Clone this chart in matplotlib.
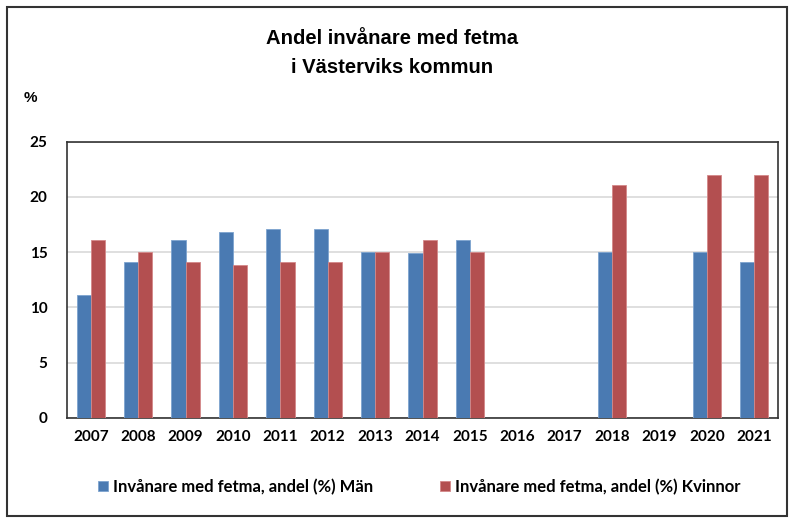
import numpy as np
import matplotlib.pyplot as plt
from matplotlib.patches import Rectangle

years = ['2007', '2008', '2009', '2010', '2011', '2012', '2013', '2014',
         '2015', '2016', '2017', '2018', '2019', '2020', '2021']
man = [11.1, 14.1, 16.1, 16.8, 17.1, 17.1, 15.0, 14.9, 16.1,
       np.nan, np.nan, 15.0, np.nan, 15.0, 14.1]
kvinnor = [16.1, 15.0, 14.1, 13.8, 14.1, 14.1, 15.0, 16.1, 15.0,
           np.nan, np.nan, 21.1, np.nan, 22.0, 22.0]

plt.rcParams['font.family'] = ['Lato', 'DejaVu Sans']

fig = plt.figure(figsize=(7.89, 5.19), dpi=100)
ax = fig.add_axes([0.085, 0.195, 0.901, 0.532])

x = np.arange(len(years))
w = 0.3
ax.bar(x - w / 2, man, width=w, color='#4a7ab2', edgecolor='#7da3cf',
       linewidth=0.6, label='Invånare med fetma, andel (%) Män', zorder=3)
ax.bar(x + w / 2, kvinnor, width=w, color='#b34f50', edgecolor='#d48889',
       linewidth=0.6, label='Invånare med fetma, andel (%) Kvinnor', zorder=3)

ax.set_xlim(-0.5, len(years) - 0.5)
ax.set_ylim(0, 25)
ax.set_yticks([0, 5, 10, 15, 20, 25])
ax.set_xticks(x)
ax.set_xticklabels(years)
ax.grid(True, axis='y', color='#d9d9d9', linewidth=1.2, zorder=0)
ax.tick_params(length=0, labelsize=11)
ax.tick_params(axis='x', pad=9)
ax.tick_params(axis='y', pad=14)
for lbl in ax.get_xticklabels() + ax.get_yticklabels():
    lbl.set_fontweight('bold')
for s in ax.spines.values():
    s.set_color('#333333')
    s.set_linewidth(1.2)

title_font = ['Liberation Sans', 'DejaVu Sans']
fig.text(0.497, 0.925, 'Andel invånare med fetma', ha='center', va='center',
         fontsize=14.6, fontweight='bold', family=title_font)
fig.text(0.497, 0.869, 'i Västerviks kommun', ha='center', va='center',
         fontsize=14.6, fontweight='bold', family=title_font)
fig.text(0.038, 0.812, '%', ha='center', va='center', fontsize=11, fontweight='bold',
         family=title_font)

leg = fig.legend(loc='center', bbox_to_anchor=(0.531, 0.062), ncol=2, frameon=False,
                 prop={'weight': 'bold', 'size': 12}, handlelength=0.6,
                 handleheight=0.6, handletextpad=0.3, columnspacing=4.0)

fig.patches.append(Rectangle((0.009, 0.006), 0.988, 0.981, transform=fig.transFigure,
                             fill=False, edgecolor='#333333', linewidth=1.5))

fig.savefig('out.png', dpi=100)
